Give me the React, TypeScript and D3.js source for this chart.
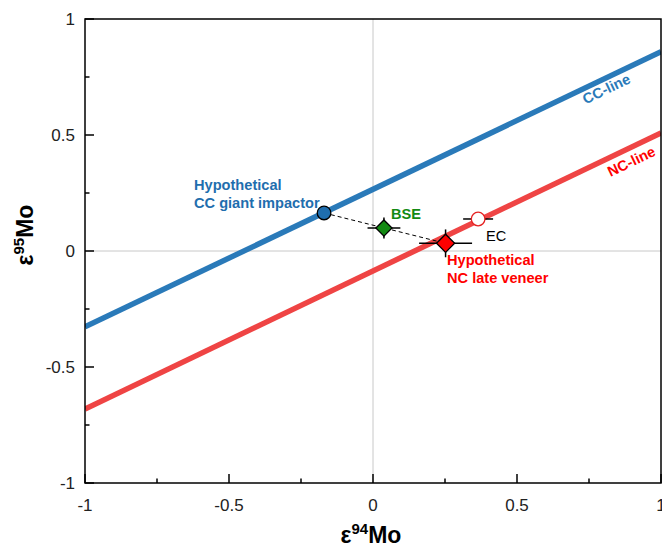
import React, { useEffect, useRef } from "react";
import * as d3 from "d3";

// Mo isotope anomaly diagram: CC-line vs NC-line, with mixing of BSE

const xTicks = [-1, -0.5, 0, 0.5, 1];
const yTicks = [-1, -0.5, 0, 0.5, 1];

// reference lines: [slope, intercept]
const ccLine = [0.593, 0.266];
const ncLine = [0.595, -0.086];

const pointNames = ["CC impactor", "BSE", "NC veneer", "EC"];
const pointX = [-0.17, 0.038, 0.252, 0.365];
const pointY = [0.164, 0.099, 0.033, 0.138];
const pointErrX = [0, 0.057, 0.092, 0.052];
const pointErrY = [0, 0.045, 0.06, 0];

const App = () => {
  const svgRef = useRef<SVGSVGElement>(null);

  useEffect(() => {
    const width = 662;
    const height = 547;
    const margin = { top: 19, right: 1, bottom: 64, left: 85 };
    const font = "'Liberation Sans', Arial, sans-serif";
    const blue = "#2a7ab9";
    const red = "#ef4444";

    const svg = d3.select(svgRef.current);
    svg.selectAll("*").remove();

    const x = d3.scaleLinear().domain([-1, 1]).range([margin.left, width - margin.right]);
    const y = d3.scaleLinear().domain([-1, 1]).range([height - margin.bottom, margin.top]);

    const clipId = "plot-clip";
    svg.append("clipPath").attr("id", clipId)
      .append("rect")
      .attr("x", x(-1)).attr("y", y(1))
      .attr("width", x(1) - x(-1)).attr("height", y(-1) - y(1));

    // zero grid lines
    svg.append("line")
      .attr("x1", x(0)).attr("x2", x(0)).attr("y1", y(1)).attr("y2", y(-1))
      .attr("stroke", "#c8c8c8").attr("stroke-width", 1);
    svg.append("line")
      .attr("x1", x(-1)).attr("x2", x(1)).attr("y1", y(0)).attr("y2", y(0))
      .attr("stroke", "#c8c8c8").attr("stroke-width", 1);

    const plot = svg.append("g").attr("clip-path", `url(#${clipId})`);

    [[ccLine, blue], [ncLine, red]].forEach(([l, c]) => {
      const [m, b] = l as number[];
      plot.append("line")
        .attr("x1", x(-1)).attr("y1", y(m * -1 + b))
        .attr("x2", x(1)).attr("y2", y(m * 1 + b))
        .attr("stroke", c as string).attr("stroke-width", 5.5);
    });

    // dashed mixing line
    svg.append("line")
      .attr("x1", x(pointX[0])).attr("y1", y(pointY[0]))
      .attr("x2", x(pointX[2])).attr("y2", y(pointY[2]))
      .attr("stroke", "#000").attr("stroke-width", 1)
      .attr("stroke-dasharray", "4,3");

    // error bars
    pointNames.forEach((_, i) => {
      if (pointErrX[i] > 0) {
        svg.append("line")
          .attr("x1", x(pointX[i] - pointErrX[i])).attr("x2", x(pointX[i] + pointErrX[i]))
          .attr("y1", y(pointY[i])).attr("y2", y(pointY[i]))
          .attr("stroke", "#000").attr("stroke-width", 1.5);
      }
      if (pointErrY[i] > 0) {
        svg.append("line")
          .attr("x1", x(pointX[i])).attr("x2", x(pointX[i]))
          .attr("y1", y(pointY[i] - pointErrY[i])).attr("y2", y(pointY[i] + pointErrY[i]))
          .attr("stroke", "#000").attr("stroke-width", 1.5);
      }
    });

    // markers
    svg.append("circle")
      .attr("cx", x(pointX[0])).attr("cy", y(pointY[0])).attr("r", 6.8)
      .attr("fill", "#1f6eae").attr("stroke", "#000").attr("stroke-width", 1.3);
    const diamond = d3.symbol().type(d3.symbolSquare);
    svg.append("path")
      .attr("d", diamond.size(130)())
      .attr("transform", `translate(${x(pointX[1])},${y(pointY[1])}) rotate(45)`)
      .attr("fill", "#138a13").attr("stroke", "#000").attr("stroke-width", 1.3);
    svg.append("path")
      .attr("d", diamond.size(165)())
      .attr("transform", `translate(${x(pointX[2])},${y(pointY[2])}) rotate(45)`)
      .attr("fill", "#ff0000").attr("stroke", "#000").attr("stroke-width", 1.3);
    svg.append("circle")
      .attr("cx", x(pointX[3])).attr("cy", y(pointY[3])).attr("r", 6.8)
      .attr("fill", "#fff").attr("stroke", "#e52222").attr("stroke-width", 1.3);

    // frame
    svg.append("rect")
      .attr("x", x(-1)).attr("y", y(1))
      .attr("width", x(1) - x(-1)).attr("height", y(-1) - y(1))
      .attr("fill", "none").attr("stroke", "#000").attr("stroke-width", 1.5);

    // axes with inward ticks
    const minor = d3.range(-1, 1.001, 0.25);
    const bottom = svg.append("g").attr("transform", `translate(0,${y(-1)})`);
    minor.forEach(v => {
      const major = xTicks.some(t => Math.abs(t - v) < 1e-6);
      bottom.append("line").attr("x1", x(v)).attr("x2", x(v))
        .attr("y1", 0).attr("y2", major ? -9 : -4.5)
        .attr("stroke", "#000").attr("stroke-width", 1.5);
    });
    xTicks.forEach(t => {
      bottom.append("text").attr("x", x(t)).attr("y", 28)
        .attr("text-anchor", "middle").attr("font-family", font)
        .attr("font-size", 17).attr("fill", "#222").text(String(t));
    });

    const left = svg.append("g").attr("transform", `translate(${x(-1)},0)`);
    minor.forEach(v => {
      const major = yTicks.some(t => Math.abs(t - v) < 1e-6);
      left.append("line").attr("y1", y(v)).attr("y2", y(v))
        .attr("x1", 0).attr("x2", major ? 9 : 4.5)
        .attr("stroke", "#000").attr("stroke-width", 1.5);
    });
    yTicks.forEach(t => {
      left.append("text").attr("x", -10).attr("y", y(t) + 6)
        .attr("text-anchor", "end").attr("font-family", font)
        .attr("font-size", 17).attr("fill", "#222").text(String(t));
    });

    // axis titles
    const xt = svg.append("text").attr("x", x(0) - 2).attr("y", 543)
      .attr("text-anchor", "middle").attr("font-family", font)
      .attr("font-weight", "bold").attr("font-size", 23);
    xt.append("tspan").text("ε");
    xt.append("tspan").attr("font-size", 15).attr("dy", -9).text("94");
    xt.append("tspan").attr("dy", 9).text("Mo");

    const yt = svg.append("text").attr("transform", `translate(33,235) rotate(-90)`)
      .attr("text-anchor", "middle").attr("font-family", font)
      .attr("font-weight", "bold").attr("font-size", 23);
    yt.append("tspan").text("ε");
    yt.append("tspan").attr("font-size", 15).attr("dy", -9).text("95");
    yt.append("tspan").attr("dy", 9).text("Mo");

    // annotations
    const label = (tx: number, ty: number, lines: string[], color: string, bold = true, size = 14.6) => {
      const t = svg.append("text").attr("font-family", font).attr("font-size", size)
        .attr("font-weight", bold ? "bold" : "normal").attr("fill", color);
      lines.forEach((s, i) => t.append("tspan").attr("x", tx).attr("y", ty + i * 17.5).text(s));
    };
    label(194, 190, ["Hypothetical", "CC giant impactor"], "#1f6eae");
    label(391, 219, ["BSE"], "#138a13");
    label(486, 241, ["EC"], "#000", false, 14.6);
    label(447, 265, ["Hypothetical", "NC late veneer"], "#ff0000");

    const angle = Math.atan2(y(ccLine[0]) - y(0), x(1) - x(0)) * 180 / Math.PI;
    const ccX = 0.795;
    const ncX = 0.878;
    svg.append("text")
      .attr("transform", `translate(${x(ccX)},${y(ccLine[0] * ccX + ccLine[1])}) rotate(${angle})`)
      .attr("y", 15)
      .attr("text-anchor", "middle").attr("font-family", font).attr("font-size", 14.6)
      .attr("font-weight", "bold").attr("fill", blue).text("CC-line");
    svg.append("text")
      .attr("transform", `translate(${x(ncX)},${y(ncLine[0] * ncX + ncLine[1])}) rotate(${angle})`)
      .attr("y", 18)
      .attr("text-anchor", "middle").attr("font-family", font).attr("font-size", 14.6)
      .attr("font-weight", "bold").attr("fill", "#ff0000").text("NC-line");
  }, []);

  return (
    <svg ref={svgRef} width={662} height={547}
      style={{ position: "absolute", left: 0, top: 0, background: "#fff" }} />
  );
};

export default App;
